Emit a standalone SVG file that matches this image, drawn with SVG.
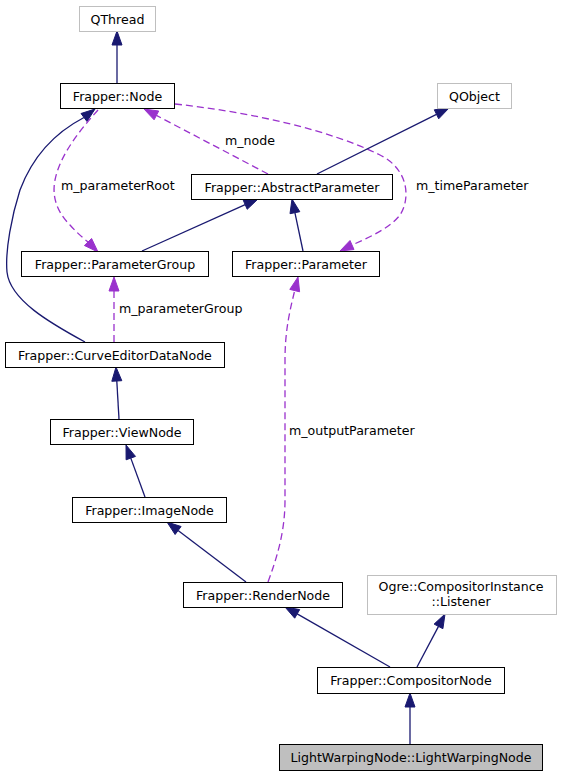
<svg xmlns="http://www.w3.org/2000/svg" width="561" height="776" viewBox="0 0 561 776">
<style>
.box{fill:#fff;stroke:#000;stroke-width:1}
.ext{fill:#fff;stroke:#bfbfbf;stroke-width:1}
.cur{fill:#bfbfbf;stroke:#000;stroke-width:1}
text{font-family:"DejaVu Sans","Liberation Sans",sans-serif;font-size:12.6px;fill:#000}
.c{text-anchor:middle}
.inh{fill:none;stroke:#191970;stroke-width:1.3}
.inhA{fill:#191970;stroke:#191970;stroke-width:1}
.use{fill:none;stroke:#9a32cd;stroke-width:1.3;stroke-dasharray:7,4}
.useA{fill:#9a32cd;stroke:#9a32cd;stroke-width:1}
</style>
<rect width="561" height="776" fill="#fff"/>
<g id="connectors">
  <!-- QThread <- Node -->
  <path class="inh" d="M117,83 L117,45"/>
  <polygon class="inhA" points="117,31 112,45 122,45"/>
  <!-- CurveEditorDataNode -> Node -->
  <path class="inh" d="M85,342 C50,323 10,300 7,272 C5,250 12,215 20,190 C35,150 60,130 84,117.5"/>
  <polygon class="inhA" points="95,109 87,121.5 81,113.5"/>
  <!-- m_parameterRoot -->
  <path class="use" d="M98,110 C80,130 60,155 55,180 C51,200 60,215 70,225 C76,232 82,237 88,242"/>
  <polygon class="useA" points="98,252 91.6,238.5 84.4,245.5"/>
  <!-- m_node -->
  <path class="use" d="M268,174 L156.4,115.4"/>
  <polygon class="useA" points="144,109 158.7,111 154.1,119.8"/>
  <!-- m_timeParameter -->
  <path class="use" d="M175,104 C250,112 330,130 380,155 C410,170 410,200 400,215 C390,228 370,237 352,245"/>
  <polygon class="useA" points="340,251 354,249.5 350,240.5"/>
  <!-- QObject <- AbstractParameter -->
  <path class="inh" d="M317,174 L436.5,114.3"/>
  <polygon class="inhA" points="449,108 438.7,118.8 434.3,109.8"/>
  <!-- ParameterGroup -> AbstractParameter -->
  <path class="inh" d="M142,251 L245.2,204.7"/>
  <polygon class="inhA" points="258,199 247.2,209.3 243.2,200.1"/>
  <!-- Parameter -> AbstractParameter -->
  <path class="inh" d="M303,251 L294.9,212.7"/>
  <polygon class="inhA" points="292,199 299.8,211.7 290,213.7"/>
  <!-- m_parameterGroup -->
  <path class="use" d="M114,342 L114,291"/>
  <polygon class="useA" points="114,277 109,291 119,291"/>
  <!-- ViewNode -> CurveEditorDataNode -->
  <path class="inh" d="M119,419 L116.8,381"/>
  <polygon class="inhA" points="116,367 121.8,380.7 111.8,381.3"/>
  <!-- ImageNode -> ViewNode -->
  <path class="inh" d="M145,497 L130.8,458.1"/>
  <polygon class="inhA" points="126,445 135.5,456.4 126.1,459.8"/>
  <!-- RenderNode -> ImageNode -->
  <path class="inh" d="M246,582 L178.1,530.5"/>
  <polygon class="inhA" points="167,522 181.1,526.5 175.1,534.5"/>
  <!-- m_outputParameter -->
  <path class="use" d="M268,582 C278,555 285,530 285,500 L285,360 C285,330 290,310 294.7,290.6"/>
  <polygon class="useA" points="298,277 299.6,291.8 289.8,289.4"/>
  <!-- CompositorNode -> RenderNode -->
  <path class="inh" d="M390,667 L297.2,613.9"/>
  <polygon class="inhA" points="285,607 299.7,609.6 294.7,618.2"/>
  <!-- CompositorNode -> Listener -->
  <path class="inh" d="M417,667 L438.5,626.4"/>
  <polygon class="inhA" points="445,614 442.9,628.7 434.1,624.1"/>
  <!-- LightWarpingNode -> CompositorNode -->
  <path class="inh" d="M410,744 L410,707"/>
  <polygon class="inhA" points="410,693 405,707 415,707"/>
  <text x="225" y="145">m_node</text>
  <text x="61" y="190">m_parameterRoot</text>
  <text x="416" y="190">m_timeParameter</text>
  <text x="119" y="313">m_parameterGroup</text>
  <text x="289" y="435">m_outputParameter</text>
</g>
<g id="QThread"><rect class="ext" x="79.5" y="6.5" width="76" height="25"/><text class="c" x="117.5" y="23.5">QThread</text></g>
<g id="Node"><rect class="box" x="60.5" y="83.5" width="114" height="25"/><text class="c" x="117.5" y="100.5">Frapper::Node</text></g>
<g id="QObject"><rect class="ext" x="437.5" y="83.5" width="74" height="25"/><text class="c" x="474.5" y="100.5">QObject</text></g>
<g id="AbstractParameter"><rect class="box" x="191.5" y="174.5" width="201" height="25"/><text class="c" x="292" y="191.5">Frapper::AbstractParameter</text></g>
<g id="ParameterGroup"><rect class="box" x="21.5" y="251.5" width="187" height="25"/><text class="c" x="115" y="268.5">Frapper::ParameterGroup</text></g>
<g id="Parameter"><rect class="box" x="232.5" y="251.5" width="147" height="25"/><text class="c" x="306" y="268.5">Frapper::Parameter</text></g>
<g id="CurveEditorDataNode"><rect class="box" x="5.5" y="342.5" width="219" height="25"/><text class="c" x="115" y="359.5">Frapper::CurveEditorDataNode</text></g>
<g id="ViewNode"><rect class="box" x="50.5" y="419.5" width="143" height="25"/><text class="c" x="122" y="436.5">Frapper::ViewNode</text></g>
<g id="ImageNode"><rect class="box" x="72.5" y="497.5" width="154" height="25"/><text class="c" x="149.5" y="514.5">Frapper::ImageNode</text></g>
<g id="RenderNode"><rect class="box" x="183.5" y="582.5" width="159" height="25"/><text class="c" x="263" y="599.5">Frapper::RenderNode</text></g>
<g id="Listener"><rect class="ext" x="367.5" y="575.5" width="189" height="39"/><text class="c" x="461" y="591">Ogre::CompositorInstance</text><text class="c" x="461" y="605.5">::Listener</text></g>
<g id="CompositorNode"><rect class="box" x="317.5" y="667.5" width="187" height="26"/><text class="c" x="411" y="685">Frapper::CompositorNode</text></g>
<g id="LightWarpingNode"><rect class="cur" x="279.5" y="744.5" width="263" height="26"/><text class="c" x="411" y="762">LightWarpingNode::LightWarpingNode</text></g>
</svg>
